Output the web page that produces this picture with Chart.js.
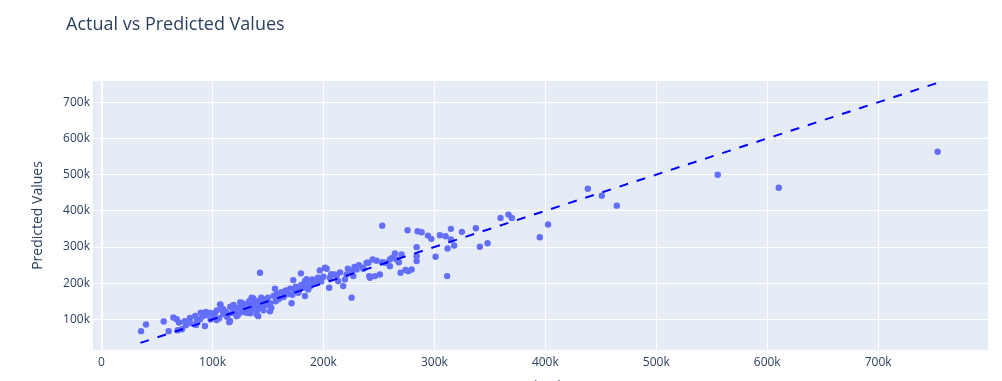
<!DOCTYPE html>
<html>
<head>
<meta charset="utf-8">
<title>Actual vs Predicted Values</title>
<script src="https://cdn.jsdelivr.net/npm/chart.js@4"></script>
<style>
    html, body { margin: 0; padding: 0; background: #ffffff; overflow: hidden; }
    #myChart { display: block; }
</style>
</head>
<body>
<canvas id="myChart" width="1002" height="400"></canvas>
<script>
// Data (sale prices, actual vs model prediction)
const actualValues = [
    35600, 40100, 56000, 60500, 64700, 67700, 69800, 68600, 72500, 75900,
    79700, 84500, 85100, 89400, 94100, 93200, 88700, 98300, 103700, 107300,
    109700, 115100, 118700, 121700, 127700, 130700, 136700, 139700, 141200, 142800,
    147300, 151800, 156300, 159300, 163800, 171300, 172800, 177300, 179700, 183300,
    184800, 187800, 196800, 202900, 205200, 211900, 217800, 225400, 229900, 226900,
    235900, 241300, 244400, 238900, 253000, 253000, 259900, 264400, 270400, 275800,
    269500, 274000, 284000, 284000, 284900, 288500, 294200, 297300, 301100, 305000,
    310100, 314900, 314900, 317800, 311900, 311500, 324800, 337400, 341000, 347900,
    359600, 366800, 369800, 395000, 402500, 438300, 450900, 464400, 555400, 610400,
    753600,
    266000, 259900, 255400, 250900, 246400, 240400, 235900, 225400, 220900, 219400,
    210400, 205900, 213300, 241900, 279500, 276400, 284000,
    102300, 106800, 109700, 114200, 115800, 120300, 126300, 129300, 135300, 139800,
    142800, 145800,
    183300, 186300, 174300, 165300, 147300, 141300, 201400,
    101000, 104000, 106000, 108000, 110000, 112000, 113000, 116000, 118000, 119000,
    121000, 123000, 124000, 125000, 126000, 128000, 129000, 131000, 132000, 133000,
    134000, 135000, 136000, 137000, 138000, 139000, 140000, 141000, 143000, 144000,
    145000, 146000, 148000, 149000, 150000, 152000, 153000, 155000, 157000, 158000,
    160000, 162000, 164000, 166000, 168000, 170000, 172000, 175000, 178000, 180000,
    182000, 185000, 188000, 190000, 193000, 195000, 198000, 200000, 207000, 215000,
    222000, 228000, 232000, 248000, 262000, 268000,
    75000, 80000, 86000, 91000, 95000, 98000
];

const predictedValues = [
    67500, 85700, 94000, 67500, 105000, 100400, 91300, 70000, 72800, 83600,
    103900, 109400, 84700, 118700, 120400, 81800, 100000, 100000, 98100, 140300,
    118300, 92400, 129200, 108800, 143600, 118300, 158500, 127400, 109000, 229000,
    149900, 122400, 184800, 155300, 173700, 144500, 208500, 173700, 227200, 164500,
    211200, 190900, 235300, 240000, 187600, 219600, 192000, 160000, 238000, 219600,
    240000, 219600, 265600, 256500, 359000, 258200, 247100, 282000, 279300, 346300,
    229000, 236300, 299600, 261000, 343500, 340700, 331500, 322500, 273000, 332500,
    329800, 350100, 320700, 304100, 295900, 219600, 341900, 351800, 300600, 310500,
    380400, 389500, 380400, 327000, 362000, 461000, 441900, 414300, 499700, 463900,
    563000,
    265600, 265600, 256500, 224200, 219600, 256500, 242700, 233300, 224200, 210500,
    224200, 215200, 205800, 215200, 238000, 233300, 274600,
    118700, 141600, 127900, 114100, 95600, 127900, 146300, 132500, 160000, 114100,
    146300, 155400,
    205800, 182900, 178300, 169000, 146000, 150700, 242700,
    112000, 125000, 103000, 130000, 115000, 121000, 107000, 135000, 118000, 140000,
    124000, 112000, 133000, 147000, 120000, 138000, 125000, 140000, 128000, 150000,
    117000, 135000, 145000, 128000, 152000, 138000, 124000, 142000, 133000, 160000,
    138000, 125000, 152000, 140000, 160000, 145000, 132000, 165000, 150000, 170000,
    158000, 175000, 162000, 180000, 170000, 185000, 168000, 190000, 180000, 195000,
    188000, 200000, 196000, 210000, 200000, 215000, 205000, 218000, 225000, 230000,
    240000, 245000, 250000, 262000, 270000, 258000,
    95000, 90000, 96000, 108000, 112000, 118000
];

// Reference line y = x, from the smallest to the largest actual value
const lineEnds = [35000, 755000];

// Tick positions on both axes
const xTicks = [0, 100000, 200000, 300000, 400000, 500000, 600000, 700000];
const yTicks = [100000, 200000, 300000, 400000, 500000, 600000, 700000];

const chartTitle = 'Actual vs Predicted Values';
const xTitle = 'Actual Values';
const yTitle = 'Predicted Values';

const textColor = '#2a3f5f';
const fontFamily = '"Open Sans", "Liberation Sans", sans-serif';

function formatK(value) {
    if (value === 0) return '0';
    return (value / 1000) + 'k';
}

// light blue plot background + title, plotly style
const plotBackground = {
    id: 'plotBackground',
    beforeDraw(chart) {
        const { ctx, chartArea } = chart;
        ctx.save();
        ctx.fillStyle = '#E5ECF6';
        ctx.fillRect(chartArea.left, chartArea.top,
            chartArea.right - chartArea.left, chartArea.bottom - chartArea.top);
        ctx.restore();
    },
    afterDraw(chart) {
        const ctx = chart.ctx;
        ctx.save();
        ctx.font = '18px ' + fontFamily;
        ctx.fillStyle = textColor;
        ctx.textBaseline = 'alphabetic';
        ctx.fillText(chartTitle, 66, 30);
        ctx.restore();
    }
};

const points = actualValues.map((a, i) => ({ x: a, y: predictedValues[i] }));
const linePoints = lineEnds.map(v => ({ x: v, y: v }));

const ctx = document.getElementById('myChart').getContext('2d');

const myChart = new Chart(ctx, {
    type: 'scatter',
    data: {
        datasets: [
            {
                // first dataset is drawn on top
                label: 'Ideal',
                data: linePoints,
                showLine: true,
                borderColor: '#0000ff',
                borderWidth: 2,
                borderDash: [9, 9],
                pointRadius: 0,
                fill: false
            },
            {
                label: 'Predictions',
                data: points,
                backgroundColor: '#636efa',
                borderWidth: 0,
                pointRadius: 3.2,
                pointHoverRadius: 3.2
            }
        ]
    },
    options: {
        responsive: false,
        animation: false,
        devicePixelRatio: 1,
        layout: {
            padding: { top: 81, right: 14, bottom: 0, left: 0 }
        },
        plugins: {
            legend: { display: false },
            tooltip: { enabled: false },
            title: { display: false }
        },
        scales: {
            x: {
                type: 'linear',
                min: -7700,
                max: 799000,
                afterFit: scale => { scale.height = 50; },
                afterBuildTicks: scale => { scale.ticks = xTicks.map(v => ({ value: v })); },
                grid: {
                    color: '#ffffff',
                    lineWidth: c => (c.tick && c.tick.value === 0 ? 2 : 1),
                    drawTicks: false
                },
                border: { display: false },
                ticks: {
                    color: textColor,
                    font: { family: fontFamily, size: 12 },
                    padding: 5,
                    maxRotation: 0,
                    callback: v => formatK(v)
                },
                title: {
                    display: true,
                    text: xTitle,
                    color: textColor,
                    font: { family: fontFamily, size: 14 },
                    padding: { top: 0, bottom: 5 }
                }
            },
            y: {
                type: 'linear',
                min: 15400,
                max: 758700,
                afterFit: scale => { scale.width = 93; },
                afterBuildTicks: scale => { scale.ticks = yTicks.map(v => ({ value: v })); },
                grid: {
                    color: '#ffffff',
                    lineWidth: 1,
                    drawTicks: false
                },
                border: { display: false },
                ticks: {
                    color: textColor,
                    font: { family: fontFamily, size: 12 },
                    padding: 3,
                    callback: v => formatK(v)
                },
                title: {
                    display: true,
                    text: yTitle,
                    color: textColor,
                    font: { family: fontFamily, size: 14 },
                    padding: { top: 30, bottom: 0 }
                }
            }
        }
    },
    plugins: [plotBackground]
});
</script>
</body>
</html>
